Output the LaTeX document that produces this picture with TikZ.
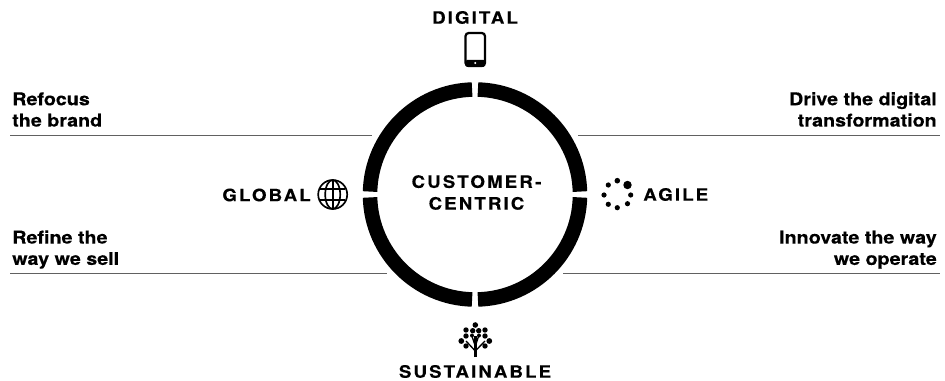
\documentclass[tikz,border=0pt]{standalone}
\usepackage{fontspec}
\setmainfont{TeX Gyre Heros}[BoldFont={* Bold},BoldFeatures={FakeStretch=1.12,FakeBold=0.25}]
\newfontfamily\spacedfont{TeX Gyre Heros Bold}[FakeStretch=1.1,LetterSpace=12,FakeBold=0.25]

\tikzset{
    ring/.style={line width=10.9pt,line cap=butt},
    rule/.style={line width=1.1pt,black!62},
    topic/.style={font=\spacedfont\fontsize{12.8pt}{16.3pt}\selectfont,align=center,inner sep=0pt},
    aim/.style={font=\bfseries\fontsize{13.2pt}{16pt}\selectfont,inner sep=0pt},
    icon/.style={line width=1.25pt},
}

\begin{document}
\begin{tikzpicture}[x=0.75pt,y=-0.75pt]
    \useasboundingbox (0,0) rectangle (945,381);
    \coordinate (C) at (475,194.5);
    % ring
    \foreach \a/\b in {1.6/88.4,91.6/178.4,181.6/268.4,271.6/358.4} {
        \draw[ring] (C) ++(\a:105) arc (\a:\b:105);
    }
    \node[topic] (centre) at (476.5,192.5) {CUSTOMER-\\CENTRIC};
    % rules
    \coordinate (ruleAL) at (10,135.5);
    \coordinate (ruleAR) at (372,135.5);
    \coordinate (ruleBL) at (10,273.5);
    \coordinate (ruleBR) at (387,273.5);
    \coordinate (ruleCL) at (578,135.5);
    \coordinate (ruleCR) at (940,135.5);
    \coordinate (ruleDL) at (563,273.5);
    \coordinate (ruleDR) at (940,273.5);
    \foreach \p/\q in {ruleAL/ruleAR,ruleBL/ruleBR,ruleCL/ruleCR,ruleDL/ruleDR} {
        \draw[rule] (\p) -- (\q);
    }
    \node[aim,anchor=south west,align=left] (refocus) at (12,127) {Refocus\\the brand};
    \node[aim,anchor=south west,align=left] (refine) at (12,269) {Refine the\\way we sell};
    \node[aim,anchor=south east,align=right] (drive) at (937,127) {Drive the digital\\transformation};
    \node[aim,anchor=south east,align=right] (innovate) at (937,269) {Innovate the way\\we operate};
    % topics
    \node[topic] (digital) at (475,17.5) {DIGITAL};
    \node[topic,anchor=east] (global) at (311,195) {GLOBAL};
    \node[topic,anchor=west] (agile) at (643,194.5) {AGILE};
    \node[topic] (sustainable) at (475,371.5) {SUSTAINABLE};
    % phone
    \draw[icon,line width=1.7pt,rounded corners=2.4pt] (465.5,33) rectangle (485,66);
    \fill[rounded corners=1pt] (465.5,60) rectangle (485,66.8);
    \fill[white] (475.3,63) circle (1.1);
    % globe
    \draw[icon] (332.7,194.5) circle (14.5);
    \draw[icon] (332.7,194.5) ellipse (7.5 and 14.5);
    \draw[icon] (332.7,180) -- (332.7,209);
    \draw[icon] (320,189) -- (345.4,189);
    \draw[icon] (320,200) -- (345.4,200);
    % agile dots
    \foreach \x/\y/\r in {627.5/185/4.2,617.3/180.7/2.8,608.3/185/2.6,604/195/2.6,608.3/204.3/2.6,617.3/207.7/2.6,627.5/203.7/2.6,630.7/195/2.6} {
        \fill (\x,\y) circle (\r);
    }
    % tree
    \draw[line width=1.8pt] (475.3,357) -- (475.3,336);
    \draw[line width=1pt] (475.3,351) -- (466,341) (475.3,351) -- (485,341);
    \draw[line width=1pt] (475.3,346) -- (471.5,335) (475.3,346) -- (479,335);
    \foreach \x/\y/\r in {475.3/325/2.8,466/330/2.7,472.7/330.7/2.7,478.7/330.7/2.7,485/330/2.7,466/336/2.7,472/335.5/2,479/335.5/2,485/336/2.7,461.3/341/2.9,489.3/341/2.9,466/346/2.7,485/346/2.7} {
        \fill (\x,\y) circle (\r);
    }
\end{tikzpicture}
\end{document}
